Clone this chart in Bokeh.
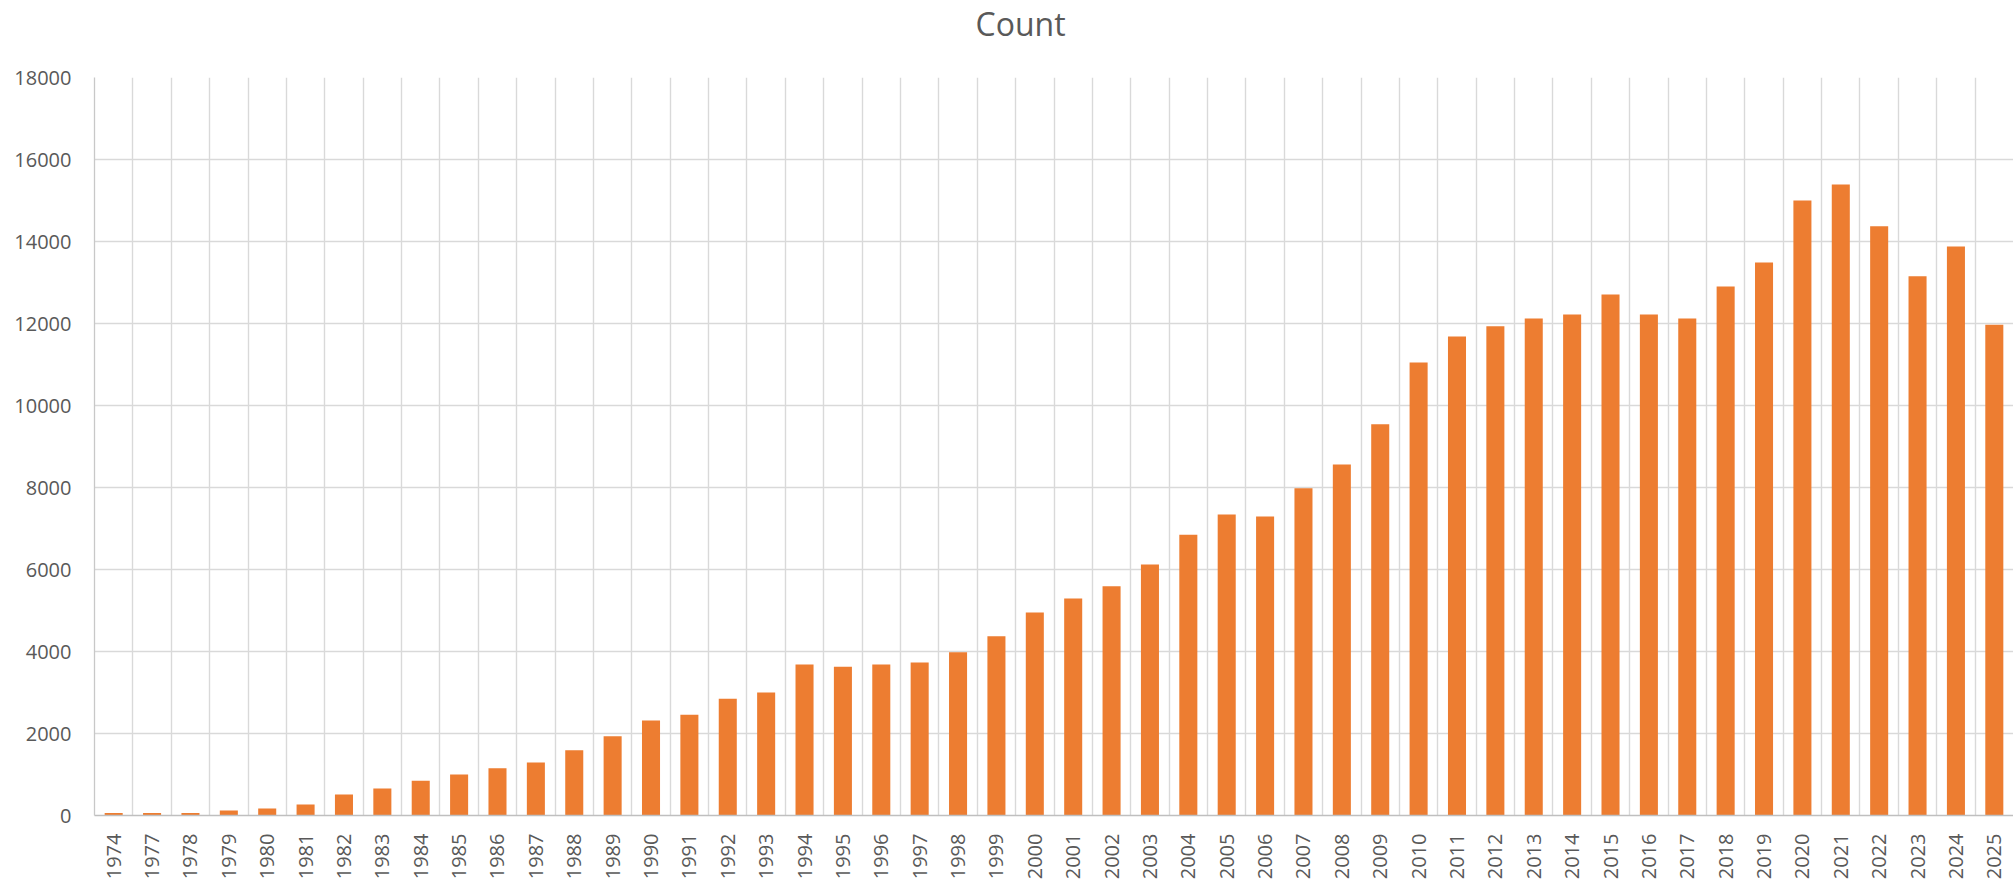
from bokeh.plotting import figure
from bokeh.models import Range1d, FixedTicker, Title
from bokeh.embed import file_html
from bokeh.resources import INLINE

years = ["1974", "1977", "1978", "1979", "1980", "1981", "1982", "1983", "1984", "1985",
         "1986", "1987", "1988", "1989", "1990", "1991", "1992", "1993", "1994", "1995",
         "1996", "1997", "1998", "1999", "2000", "2001", "2002", "2003", "2004", "2005",
         "2006", "2007", "2008", "2009", "2010", "2011", "2012", "2013", "2014", "2015",
         "2016", "2017", "2018", "2019", "2020", "2021", "2022", "2023", "2024", "2025"]
counts = [60, 60, 60, 120, 170, 270, 510, 660, 850, 1000,
          1150, 1290, 1590, 1930, 2320, 2460, 2850, 3000, 3680, 3630,
          3680, 3730, 3980, 4370, 4950, 5290, 5590, 6120, 6850, 7340,
          7290, 7980, 8560, 9540, 11050, 11680, 11930, 12120, 12220, 12710,
          12220, 12120, 12900, 13490, 15000, 15390, 14370, 13150, 13880, 11970]
y_ticks = [0, 2000, 4000, 6000, 8000, 10000, 12000, 14000, 16000, 18000]

n = len(years)
xs = [i + 0.5 for i in range(n)]

FONT = "Open Sans"
TXT = "#595959"
GRID = "#D9D9D9"

p = figure(width=2013, height=883, output_backend="svg", toolbar_location=None,
           x_range=Range1d(0, n), y_range=Range1d(0, 18000),
           min_border_left=94, min_border_right=0, min_border_top=77, min_border_bottom=68)
p.outline_line_color = None
p.background_fill_color = "white"
p.border_fill_color = "white"

# blank spacer between the plotting area and the chart title
spacer = Title(text=" ", standoff=7, text_font=FONT, text_font_size="16px",
               text_color="white")
p.add_layout(spacer, "above")

title = Title(text="Count", align="left", offset=881, standoff=0, vertical_align="top",
              text_font=FONT, text_font_size="32px", text_font_style="normal",
              text_color=TXT)
p.add_layout(title, "above")

p.vbar(x=xs, top=counts, width=0.47, bottom=0, fill_color="#ED7D31", line_color=None)

# x axis
p.xaxis.ticker = FixedTicker(ticks=xs)
p.xaxis.major_label_overrides = {x: y for x, y in zip(xs, years)}
p.xaxis.major_label_orientation = 3.14159265 / 2
p.xaxis.major_tick_line_color = None
p.xaxis.major_tick_out = 0
p.xaxis.major_tick_in = 0
p.xaxis.minor_tick_line_color = None
p.xaxis.major_label_standoff = 18
p.xaxis.axis_line_color = "#BFBFBF"
p.xaxis.axis_line_width = 1.5
p.xaxis.major_label_text_font = FONT
p.xaxis.major_label_text_font_size = "20px"
p.xaxis.major_label_text_color = TXT

# y axis
p.yaxis.ticker = FixedTicker(ticks=y_ticks)
p.yaxis.major_tick_line_color = None
p.yaxis.major_tick_out = 0
p.yaxis.major_tick_in = 0
p.yaxis.minor_tick_line_color = None
p.yaxis.major_label_standoff = 23
p.yaxis.axis_line_color = "#C8C8C8"
p.yaxis.axis_line_width = 1.3
p.yaxis.major_label_text_font = FONT
p.yaxis.major_label_text_font_size = "20px"
p.yaxis.major_label_text_color = TXT

# grids
p.xgrid.ticker = FixedTicker(ticks=list(range(n + 1)))
p.xgrid.grid_line_color = GRID
p.xgrid.grid_line_width = 1.4
p.ygrid.ticker = FixedTicker(ticks=y_ticks)
p.ygrid.grid_line_color = GRID
p.ygrid.grid_line_width = 1.4

open("out.html", "w").write(file_html(p, INLINE))
